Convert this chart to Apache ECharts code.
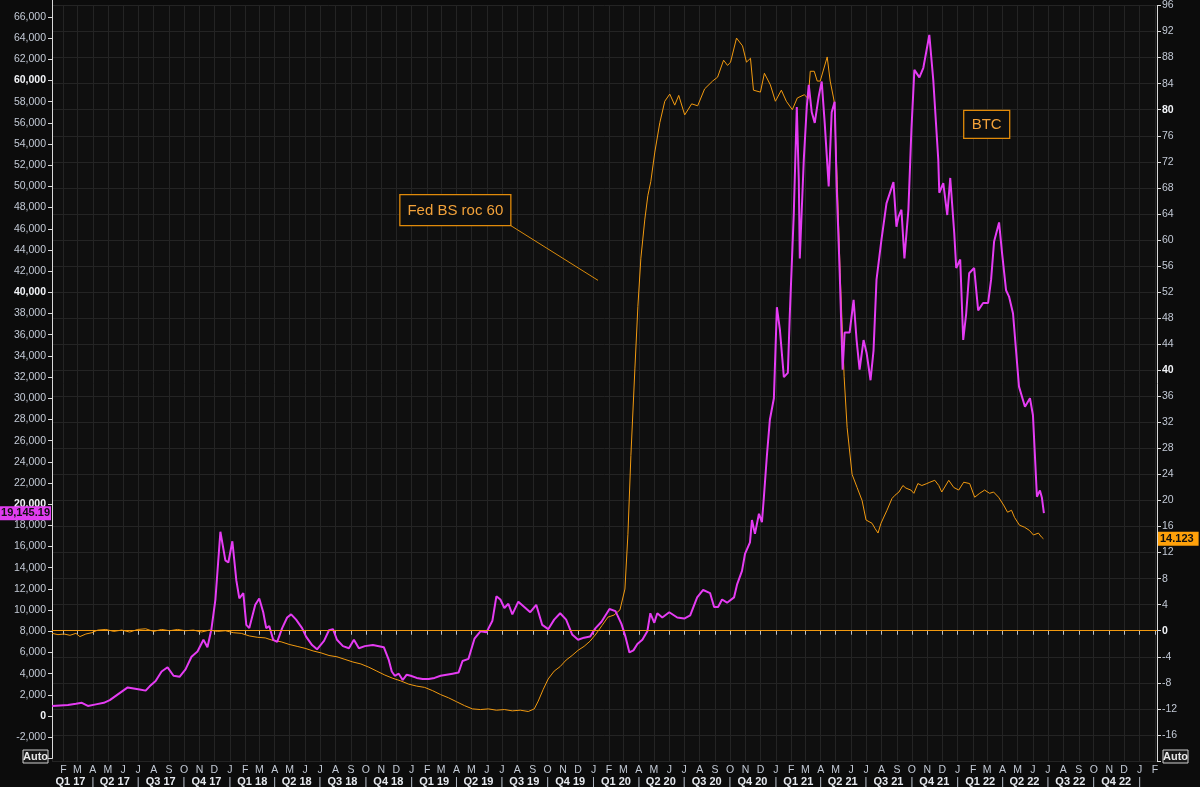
<!DOCTYPE html>
<html><head><meta charset="utf-8">
<script src="https://cdn.jsdelivr.net/npm/echarts@6/dist/echarts.min.js"></script>
<style>html,body{margin:0;padding:0;background:#0c0c0c;}#c{width:1200px;height:787px;}</style>
</head><body><div id="c"></div>
<script>
// ---------------- DATA ----------------
const btcDates = ['2017-01-09','2017-01-25','2017-02-10','2017-02-26','2017-03-10','2017-03-22','2017-04-07','2017-04-23','2017-05-05','2017-05-17','2017-05-29','2017-06-10','2017-06-22','2017-07-04','2017-07-16','2017-07-24','2017-08-05','2017-08-17','2017-08-29','2017-09-10','2017-09-22','2017-10-04','2017-10-16','2017-10-28','2017-11-09','2017-11-17','2017-11-25','2017-12-03','2017-12-13','2017-12-23','2017-12-29','2018-01-06','2018-01-14','2018-01-20','2018-01-28','2018-02-03','2018-02-09','2018-02-21','2018-03-01','2018-03-09','2018-03-15','2018-03-21','2018-03-29','2018-04-06','2018-04-16','2018-04-26','2018-05-04','2018-05-14','2018-05-26','2018-06-03','2018-06-15','2018-06-25','2018-07-09','2018-07-19','2018-07-27','2018-08-04','2018-08-16','2018-08-28','2018-09-07','2018-09-17','2018-09-29','2018-10-15','2018-11-06','2018-11-16','2018-11-22','2018-11-28','2018-12-06','2018-12-14','2018-12-22','2018-12-30','2019-01-11','2019-01-23','2019-02-04','2019-02-16','2019-02-28','2019-03-12','2019-03-24','2019-04-05','2019-04-13','2019-04-25','2019-05-07','2019-05-19','2019-05-31','2019-06-12','2019-06-20','2019-06-28','2019-07-06','2019-07-14','2019-07-22','2019-08-03','2019-08-15','2019-08-27','2019-09-08','2019-09-20','2019-10-02','2019-10-14','2019-10-26','2019-11-07','2019-11-19','2019-12-01','2019-12-13','2019-12-25','2020-01-05','2020-01-17','2020-02-02','2020-02-14','2020-02-26','2020-03-05','2020-03-13','2020-03-21','2020-03-29','2020-04-08','2020-04-18','2020-04-24','2020-05-02','2020-05-08','2020-05-18','2020-06-01','2020-06-17','2020-07-01','2020-07-13','2020-07-27','2020-08-08','2020-08-22','2020-08-30','2020-09-07','2020-09-15','2020-09-25','2020-10-09','2020-10-15','2020-10-25','2020-10-31','2020-11-10','2020-11-14','2020-11-20','2020-11-28','2020-12-04','2020-12-08','2020-12-14','2020-12-20','2020-12-28','2021-01-03','2021-01-09','2021-01-17','2021-01-25','2021-01-29','2021-02-06','2021-02-12','2021-02-16','2021-02-18','2021-02-26','2021-03-04','2021-03-08','2021-03-14','2021-03-20','2021-03-28','2021-04-03','2021-04-09','2021-04-17','2021-04-23','2021-04-29','2021-05-03','2021-05-09','2021-05-15','2021-05-19','2021-05-29','2021-06-06','2021-06-12','2021-06-18','2021-06-26','2021-07-02','2021-07-10','2021-07-16','2021-07-22','2021-08-01','2021-08-11','2021-08-25','2021-08-31','2021-09-04','2021-09-10','2021-09-16','2021-09-24','2021-09-30','2021-10-06','2021-10-16','2021-10-24','2021-11-05','2021-11-13','2021-11-23','2021-11-25','2021-12-03','2021-12-11','2021-12-17','2021-12-25','2021-12-29','2022-01-06','2022-01-12','2022-01-18','2022-01-24','2022-02-03','2022-02-11','2022-02-21','2022-03-03','2022-03-09','2022-03-15','2022-03-25','2022-03-31','2022-04-08','2022-04-14','2022-04-22','2022-05-04','2022-05-16','2022-05-26','2022-06-01','2022-06-09','2022-06-15','2022-06-19','2022-06-23'];
const btcValues = [950,1000,1050,1150,1250,950,1100,1250,1500,1900,2300,2700,2600,2500,2400,2800,3300,4200,4600,3800,3700,4400,5600,6100,7200,6500,8200,11000,17400,14700,14500,16500,12800,11100,11600,8600,8300,10500,11100,9800,8300,8500,7200,7000,8300,9300,9600,9100,8300,7500,6700,6300,7100,8100,8200,7200,6600,6400,7200,6400,6600,6700,6500,5300,4200,3800,4000,3400,3900,3800,3600,3500,3500,3600,3800,3900,4000,4100,5200,5400,7300,8000,7900,9000,11300,11000,10200,10600,9600,10800,10300,9800,10500,8600,8200,9100,9700,9100,7700,7200,7400,7500,8300,8900,10100,9900,8700,7500,6000,6200,6800,7200,8000,9700,8800,9700,9300,9800,9300,9200,9500,11200,11900,11600,10300,10300,11000,10700,11200,12400,13700,15300,16400,18500,17200,19100,18300,20700,24600,28000,30000,38600,36500,32000,32400,38000,47500,57500,50600,43200,52500,57500,59600,57000,56000,58500,59900,56000,50000,57000,58000,50000,42000,32700,36200,36200,39300,35500,32700,35500,34300,31700,34500,41200,45000,48400,50400,46200,47100,47800,43200,47800,55300,61000,60300,61200,64300,60000,52500,49400,50300,47300,50800,45600,42300,43100,35500,38000,41800,42300,38300,39000,39000,41200,44800,46600,43700,40200,39600,38000,31100,29200,30000,28400,20700,21300,20600,19145.19];

const fedDates = ['2017-01-09','2017-01-21','2017-02-02','2017-02-14','2017-02-26','2017-03-06','2017-03-18','2017-03-30','2017-04-11','2017-04-27','2017-05-13','2017-05-29','2017-06-14','2017-06-30','2017-07-16','2017-08-01','2017-08-17','2017-09-02','2017-09-18','2017-10-04','2017-10-20','2017-11-05','2017-11-21','2017-12-07','2017-12-23','2018-01-08','2018-01-24','2018-02-09','2018-02-25','2018-03-13','2018-03-29','2018-04-14','2018-04-30','2018-05-16','2018-06-01','2018-06-17','2018-07-03','2018-07-19','2018-08-04','2018-08-20','2018-09-05','2018-09-21','2018-10-07','2018-10-23','2018-11-08','2018-11-24','2018-12-10','2018-12-26','2019-01-11','2019-01-27','2019-02-12','2019-02-28','2019-03-16','2019-04-01','2019-04-17','2019-05-03','2019-05-19','2019-06-04','2019-06-20','2019-07-06','2019-07-22','2019-08-07','2019-08-23','2019-09-04','2019-09-12','2019-09-22','2019-10-02','2019-10-14','2019-10-26','2019-11-07','2019-11-19','2019-12-01','2019-12-13','2019-12-25','2020-01-06','2020-01-18','2020-01-30','2020-02-11','2020-02-23','2020-03-04','2020-03-10','2020-03-16','2020-03-24','2020-03-30','2020-04-05','2020-04-13','2020-04-19','2020-04-25','2020-05-03','2020-05-13','2020-05-23','2020-06-02','2020-06-12','2020-06-20','2020-07-02','2020-07-16','2020-07-28','2020-08-11','2020-08-27','2020-09-06','2020-09-18','2020-09-26','2020-10-02','2020-10-14','2020-10-26','2020-11-03','2020-11-11','2020-11-17','2020-12-01','2020-12-09','2020-12-21','2020-12-31','2021-01-12','2021-01-22','2021-02-03','2021-02-13','2021-02-27','2021-03-07','2021-03-11','2021-03-19','2021-03-25','2021-03-31','2021-04-14','2021-04-20','2021-04-28','2021-05-04','2021-05-10','2021-05-18','2021-05-24','2021-06-03','2021-06-13','2021-06-23','2021-07-01','2021-07-13','2021-07-19','2021-07-25','2021-07-31','2021-08-12','2021-08-22','2021-08-28','2021-09-05','2021-09-13','2021-09-19','2021-09-29','2021-10-05','2021-10-13','2021-10-21','2021-10-31','2021-11-06','2021-11-16','2021-11-24','2021-11-30','2021-12-14','2021-12-24','2022-01-03','2022-01-13','2022-01-25','2022-02-04','2022-02-14','2022-02-24','2022-03-06','2022-03-14','2022-03-24','2022-04-03','2022-04-11','2022-04-19','2022-04-25','2022-05-05','2022-05-15','2022-05-25','2022-06-02','2022-06-12','2022-06-18','2022-06-22'];
const fedValues = [-0.4,-0.6,-0.5,-0.7,-0.4,-0.9,-0.5,-0.3,0.1,0.2,-0.1,0.1,-0.2,0.2,0.3,-0.1,0.2,0.0,0.2,0.0,0.1,-0.2,0.1,-0.1,0.0,-0.3,-0.4,-0.8,-1.0,-1.1,-1.5,-1.7,-2.1,-2.4,-2.7,-3.1,-3.4,-3.8,-4.0,-4.4,-4.8,-5.1,-5.6,-6.2,-6.8,-7.3,-7.7,-8.2,-8.5,-8.7,-9.2,-9.8,-10.3,-10.9,-11.5,-12.0,-12.1,-12.0,-12.2,-12.1,-12.3,-12.2,-12.4,-12.0,-10.8,-9.0,-7.4,-6.2,-5.5,-4.5,-3.8,-3.0,-2.4,-1.6,-0.5,0.8,2.1,2.4,3.2,6.4,14.8,26.9,40.2,49.8,57.2,63.2,66.8,69.0,73.5,78.0,81.3,82.4,80.7,82.2,79.2,80.9,80.6,83.2,84.4,85.0,87.6,86.8,87.3,91.0,89.8,87.3,87.9,83.0,82.7,85.6,83.8,81.3,83.0,81.3,80.0,81.8,82.3,81.7,85.9,85.9,84.4,84.4,88.1,84.4,81.3,69.3,55.0,39.0,31.2,24.0,22.0,20.0,17.0,16.5,15.7,15.0,16.5,18.5,20.3,20.8,21.3,22.3,21.9,21.6,21.1,22.6,22.3,22.6,22.8,23.1,22.3,21.3,23.1,22.0,21.6,22.8,22.6,20.5,21.1,21.6,21.1,21.3,20.5,19.3,18.2,18.5,17.4,16.2,15.9,15.4,14.7,15.0,14.4,14.123];

const monthLetters = ['J','F','M','A','M','J','J','A','S','O','N','D'];
const boldLeftTicks = [0, 20000, 40000, 60000];
const boldRightTicks = [0, 40, 80];
const xStart = '2017-01-09', xEnd = '2023-02-05';
const fedNote = { text: 'Fed BS roc 60', from: ['2019-07-19', 62.2], to: ['2020-01-10', 53.8] };
const btcNote = { text: 'BTC', at: ['2022-01-13', 79.9] };

// ---------------- CHART ----------------
const ORANGE = '#f29a10', MAGENTA = '#e53cf3', LBL = '#c3cad6';
const chart = echarts.init(document.getElementById('c'), null, {renderer: 'canvas'});
const fmtN = v => v.toLocaleString('en-US');
const btcLast = btcValues[btcValues.length - 1];
const fedLast = fedValues[fedValues.length - 1];
const FONT = 'Liberation Sans';
const HIDDEN = {color: 'rgba(0,0,0,0)', width: 0};

const option = {
  backgroundColor: '#0c0c0c',
  animation: false,
  textStyle: {fontFamily: FONT},
  grid: [
    {left: 52, right: 43, top: 0, bottom: 28.6, show: false},
    {left: 52, right: 43, top: 2.9, bottom: 25.15, show: true, backgroundColor: '#0f0f0f', borderWidth: 0}
  ],
  xAxis: [
    {type: 'time', gridIndex: 0, min: xStart, max: xEnd, show: false},
    {type: 'time', gridIndex: 1, min: xStart, max: xEnd, splitNumber: 80,
     minInterval: 28 * 864e5, maxInterval: 31 * 864e5,
     axisLine: {show: true, lineStyle: {color: '#4a4a4a', width: 1}},
     axisTick: {show: true, length: 4, lineStyle: {color: '#b8bec8'}},
     splitLine: {show: true, lineStyle: {color: '#242424', width: 1}},
     axisLabel: {color: LBL, fontSize: 10.5, margin: 4, hideOverlap: false, fontFamily: FONT,
       formatter: v => monthLetters[new Date(v).getMonth()]}},
    {type: 'time', gridIndex: 1, min: xStart, max: xEnd, splitNumber: 80, position: 'bottom', offset: 11,
     minInterval: 28 * 864e5, maxInterval: 31 * 864e5,
     axisLine: {show: false}, axisTick: {show: false}, splitLine: {show: false},
     axisLabel: {color: '#e6e9ee', fontSize: 11, margin: 4, hideOverlap: false, fontFamily: FONT,
       formatter: v => {
         const d = new Date(v), m = d.getMonth(), y = d.getFullYear();
         if (m % 3 === 0) return '{s||}';
         if (m % 3 === 1 && y <= 2022) return '{q|Q' + (Math.floor(m / 3) + 1) + ' ' + String(y).slice(2) + '}';
         return '';
       },
       rich: {q: {color: '#e6e9ee', fontSize: 11, fontWeight: 'bold', padding: [0, 0, 0, 14], fontFamily: FONT},
              s: {color: '#c3cad6', fontSize: 11, fontFamily: FONT}}}}
  ],
  yAxis: [
    {type: 'value', gridIndex: 0, position: 'left', min: -4000, max: 67600, interval: 2000,
     axisLine: {show: true, lineStyle: {color: '#d9d9d9', width: 1}},
     axisTick: {show: true, length: 4, lineStyle: {color: '#d9d9d9'}},
     splitLine: {show: false},
     axisLabel: {margin: 6, showMaxLabel: false,
       formatter: v => (v === -4000 || v % 2000 !== 0) ? '' : (boldLeftTicks.includes(v) ? '{b|' + fmtN(v) + '}' : '{n|' + fmtN(v) + '}'),
       rich: {b: {color: '#f2f4f8', fontWeight: 'bold', fontSize: 10.5, fontFamily: FONT},
              n: {color: LBL, fontSize: 10.5, fontFamily: FONT}}}},
    {type: 'value', gridIndex: 1, position: 'right', min: -20, max: 96, interval: 4,
     axisLine: {show: true, lineStyle: {color: '#d9d9d9', width: 1}},
     axisTick: {show: true, length: 4, lineStyle: {color: '#d9d9d9'}},
     splitLine: {show: true, lineStyle: {color: '#242424', width: 1}},
     axisLabel: {margin: 5, formatter: v => v === -20 ? '' : (boldRightTicks.includes(v) ? '{b|' + v + '}' : '{n|' + v + '}'),
       rich: {b: {color: '#f2f4f8', fontWeight: 'bold', fontSize: 10.5, fontFamily: FONT},
              n: {color: LBL, fontSize: 10.5, fontFamily: FONT}}}}
  ],
  series: [
    {name: 'Fed BS roc 60', type: 'line', xAxisIndex: 1, yAxisIndex: 1, z: 2,
     data: fedDates.map((d, i) => [d, fedValues[i]]),
     showSymbol: false, symbol: 'none', lineStyle: {color: ORANGE, width: 1}, itemStyle: {color: ORANGE},
     markLine: {silent: true, symbol: ['none', 'none'], animation: false,
       data: [
         {yAxis: 0, lineStyle: {color: ORANGE, width: 1, type: 'solid'}, label: {show: false}},
         {yAxis: fedLast, lineStyle: HIDDEN, label: {show: true, position: 'end', distance: 1,
           formatter: () => String(fedLast), backgroundColor: '#ffa10a', color: '#111', fontWeight: 'bold',
           fontSize: 11, padding: [2, 5, 1, 2], fontFamily: FONT}}
       ]}},
    {name: 'BTC', type: 'line', xAxisIndex: 0, yAxisIndex: 0, z: 3,
     data: btcDates.map((d, i) => [d, btcValues[i]]),
     showSymbol: false, symbol: 'none', lineStyle: {color: MAGENTA, width: 2}, itemStyle: {color: MAGENTA},
     markLine: {silent: true, symbol: ['none', 'none'], animation: false,
       data: [
         {yAxis: btcLast, lineStyle: HIDDEN, label: {show: true, position: 'start', distance: 1,
           formatter: () => btcLast.toLocaleString('en-US', {minimumFractionDigits: 2}),
           backgroundColor: '#e03df0', color: '#111', fontWeight: 'bold', fontSize: 11, padding: [2, 1, 1, 2], fontFamily: FONT}}
       ]}}
  ]
};
chart.setOption(option);

// ---------------- ANNOTATIONS ----------------
const toPx = p => chart.convertToPixel({gridIndex: 1}, [echarts.time && echarts.time.parse ? +echarts.time.parse(p[0]) : +new Date(p[0]), p[1]]);
const a = toPx(fedNote.from), b = toPx(fedNote.to), c = toPx(btcNote.at);
const BOX = '#e08a0a', TXT = '#f3a23a';
const autoBox = (x, y) => ({type: 'group', x, y, children: [
  {type: 'rect', shape: {x: 0, y: 0, width: 25, height: 13}, style: {fill: '#181818', stroke: '#cfcfcf', lineWidth: 1}},
  {type: 'text', x: 12.5, y: 7, style: {text: 'Auto', fill: '#e8e8e8', font: 'bold 11px ' + FONT, align: 'center', verticalAlign: 'middle'}}
]});
chart.setOption({graphic: [
  {type: 'line', shape: {x1: a[0], y1: a[1], x2: b[0], y2: b[1]}, style: {stroke: '#d98a0a', lineWidth: 1}, z: 10},
  {type: 'group', x: a[0] - 111, y: a[1] - 31, z: 10, children: [
    {type: 'rect', shape: {x: 0, y: 0, width: 111, height: 31}, style: {fill: '#0f0f0f', stroke: BOX, lineWidth: 1.3}},
    {type: 'text', x: 55.5, y: 16, style: {text: fedNote.text, fill: TXT, font: '15px ' + FONT, align: 'center', verticalAlign: 'middle'}}
  ]},
  {type: 'group', x: c[0], y: c[1], z: 10, children: [
    {type: 'rect', shape: {x: 0, y: 0, width: 46, height: 28}, style: {fill: '#0f0f0f', stroke: BOX, lineWidth: 1.3}},
    {type: 'text', x: 23, y: 14.5, style: {text: btcNote.text, fill: TXT, font: '15px ' + FONT, align: 'center', verticalAlign: 'middle'}}
  ]},
  autoBox(23, 750),
  autoBox(1163, 750)
]});
</script>
</body></html>
